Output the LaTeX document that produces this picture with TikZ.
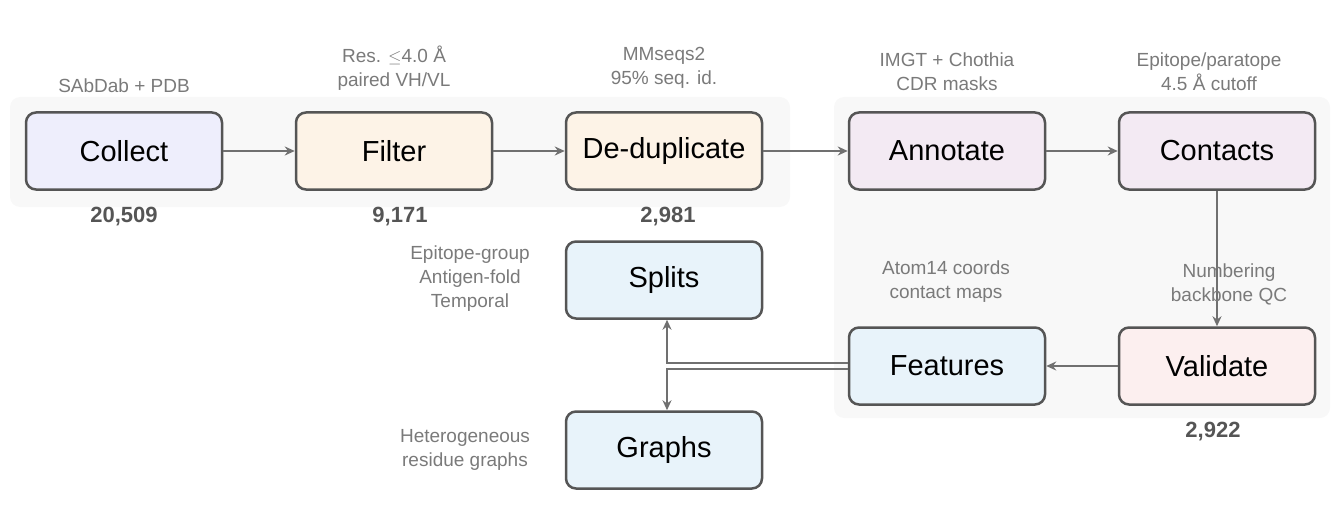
\documentclass[tikz,border=0pt]{standalone}
\usepackage{fontspec}
\setmainfont{Liberation Sans}
\usetikzlibrary{arrows.meta}
\definecolor{bd}{HTML}{555555}
\definecolor{ar}{HTML}{707070}
\definecolor{lb}{HTML}{7A7A7A}
\definecolor{cnt}{HTML}{555555}
\definecolor{pn}{HTML}{F8F8F8}
\definecolor{cA}{HTML}{EEEEFC}
\definecolor{cB}{HTML}{FDF3E7}
\definecolor{cC}{HTML}{F3EAF3}
\definecolor{cD}{HTML}{FCEFEF}
\definecolor{cE}{HTML}{E8F3FA}
\begin{document}
\begin{tikzpicture}[x=1pt,y=-1pt,
 box/.style={draw=bd,line width=2.5pt,rounded corners=10pt,minimum width=196pt,minimum height=77pt,font=\fontsize{29}{32}\selectfont,text=black},
 lab/.style={text=lb,font=\fontsize{19}{24}\selectfont,align=center},
 num/.style={text=cnt,font=\bfseries\fontsize{22}{26}\selectfont},
 arr/.style={draw=ar,line width=2.2pt,-{Stealth[length=10pt,width=9pt]}}]
\useasboundingbox (0,0) rectangle (1336,516);
\fill[pn,rounded corners=10pt] (10,97) rectangle (790,207);
\fill[pn,rounded corners=10pt] (834,97) rectangle (1330,418);
\node[box,fill=cA] (col) at (124,151) {Collect};
\node[box,fill=cB] (fil) at (394,151) {Filter};
\node[box,fill=cB] (ded) at (664,151) {De-duplicate};
\node[box,fill=cC] (ann) at (947,151) {Annotate};
\node[box,fill=cC] (con) at (1217,151) {Contacts};
\node[box,fill=cD] (val) at (1217,366) {Validate};
\node[box,fill=cE] (fea) at (947,366) {Features};
\node[box,fill=cE] (spl) at (664,280) {Splits};
\node[box,fill=cE] (gra) at (664,450) {Graphs};
\draw[arr] (col) -- (fil);
\draw[arr] (fil) -- (ded);
\draw[arr] (ded) -- (ann);
\draw[arr] (ann) -- (con);
\draw[arr] (con) -- (val);
\draw[arr] (val) -- (fea);
\coordinate (j1) at (667,363);
\coordinate (j2) at (667,369);
\draw[arr] (fea.west |- j1) -- (j1) -- (spl.south -| j1);
\draw[arr] (fea.west |- j2) -- (j2) -- (gra.north -| j2);
\node[lab] (l1) at (124,86) {SAbDab + PDB};
\node[lab] (l2) at (394,68) {Res. $\leq$4.0 Å\\paired VH/VL};
\node[lab] (l3) at (664,68) {MMseqs2\\95\% seq. id.};
\node[lab] (l4) at (947,72) {IMGT + Chothia\\CDR masks};
\node[lab] (l5) at (1209,72) {Epitope/paratope\\4.5 Å cutoff};
\node[lab] (l6) at (470,279) {Epitope-group\\Antigen-fold\\Temporal};
\node[lab] (l7) at (465,450) {Heterogeneous\\residue graphs};
\node[lab] (l8) at (946,282) {Atom14 coords\\contact maps};
\node[lab] (l9) at (1229,284) {Numbering\\backbone QC};
\node[num] (n1) at (124,217) {20,509};
\node[num] (n2) at (400,217) {9,171};
\node[num] (n3) at (668,217) {2,981};
\node[num] (n4) at (1213,432) {2,922};
\end{tikzpicture}
\end{document}
